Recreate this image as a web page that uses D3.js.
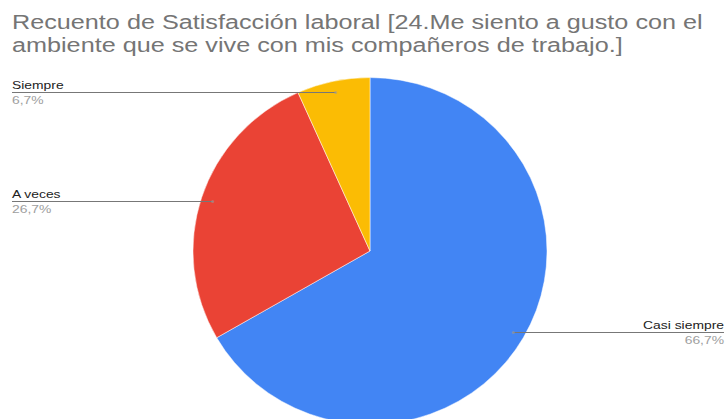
<!DOCTYPE html>
<html>
<head>
<meta charset="utf-8">
<script src="https://cdn.jsdelivr.net/npm/d3@7"></script>
<style>
  html, body { margin: 0; padding: 0; background: #fff; }
  svg { display: block; font-family: Arial, "Liberation Sans", sans-serif; }
</style>
</head>
<body>
<svg id="chart" width="726" height="419"></svg>
<script>
// Response categories and counts (15 answers in total)
const categories = ["Casi siempre", "A veces", "Siempre"];
const counts = [10, 4, 1];
const colors = ["#4285f4", "#ea4335", "#fbbc04"];
const titleLines = [
  "Recuento de Satisfacción laboral [24.Me siento a gusto con el",
  "ambiente que se vive con mis compañeros de trabajo.]"
];

const width = 726, height = 419;
const cx = 370, cy = 251, radius = 177, squash = 0.98;
const textStretch = 1.26;

const svg = d3.select("#chart");

// Widen text glyphs horizontally to the chart's text proportions
function stretch(sel) {
  sel.each(function () {
    const w = this.getComputedTextLength();
    d3.select(this)
      .attr("textLength", w * textStretch)
      .attr("lengthAdjust", "spacingAndGlyphs");
  });
}

// Title
svg.append("g").selectAll("text")
  .data(titleLines)
  .join("text")
  .attr("x", 12)
  .attr("y", (d, i) => 29 + i * 23)
  .attr("font-size", 20)
  .attr("fill", "#757575")
  .text(d => d)
  .call(stretch);

const total = d3.sum(counts);
const data = categories.map((c, i) => ({ name: c, value: counts[i], color: colors[i] }));

const pie = d3.pie().value(d => d.value).sort(null);
const arcs = pie(data);
const arc = d3.arc().innerRadius(0).outerRadius(radius);

const g = svg.append("g").attr("transform", `translate(${cx},${cy}) scale(1,${squash})`);
g.selectAll("path")
  .data(arcs)
  .join("path")
  .attr("d", arc)
  .attr("fill", d => d.data.color)
  .attr("stroke", "#fff")
  .attr("stroke-width", 0.5);

// Leader lines: from a point inside each slice out to the chart edge
const anchorArc = d3.arc().innerRadius(radius * 0.935).outerRadius(radius * 0.935);
const fmt = v => (Math.round(v / total * 1000) / 10).toFixed(1).replace(".", ",") + "%";

const labels = svg.append("g");
arcs.forEach(a => {
  const [ax, ay] = anchorArc.centroid(a);
  const px = cx + ax, py = Math.round(cy + ay * squash) + 0.5;
  const mid = (a.startAngle + a.endAngle) / 2;
  const right = Math.sin(mid) > 0;
  const endX = right ? width - 2 : 12;
  labels.append("line")
    .attr("x1", px).attr("y1", py)
    .attr("x2", endX).attr("y2", py)
    .attr("stroke", "#777")
    .attr("stroke-width", 1);
  labels.append("circle")
    .attr("cx", px).attr("cy", py).attr("r", 1.5)
    .attr("fill", "#999").attr("opacity", 0.6);
  labels.append("text")
    .attr("x", endX).attr("y", py - 4)
    .attr("text-anchor", right ? "end" : "start")
    .attr("font-size", 11)
    .attr("fill", "#222")
    .text(a.data.name)
    .call(stretch);
  labels.append("text")
    .attr("x", endX).attr("y", py + 11)
    .attr("text-anchor", right ? "end" : "start")
    .attr("font-size", 11)
    .attr("fill", "#9e9e9e")
    .text(fmt(a.data.value))
    .call(stretch);
});
</script>
</body>
</html>
